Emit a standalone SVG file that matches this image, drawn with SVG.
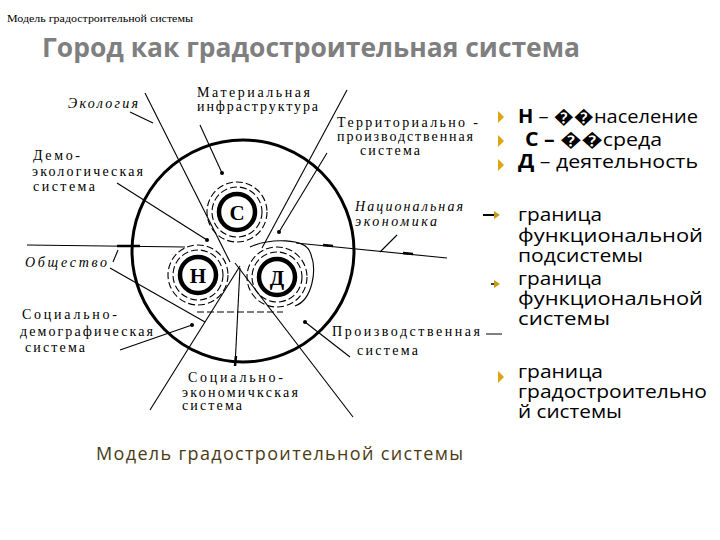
<svg xmlns="http://www.w3.org/2000/svg" width="720" height="540" viewBox="0 0 720 540">
<style>
.lbl{font-family:"Liberation Serif","DejaVu Serif",serif;font-size:14px;fill:#000}
.it{font-style:italic}
.rt{font-family:"Open Sans","DejaVu Sans",sans-serif;font-size:19px;fill:#000}
.ln{stroke:#000;stroke-width:1.1;fill:none}
.ring{stroke:#000;stroke-width:4.5;fill:#fff}
.dash{stroke:#000;stroke-width:1.1;fill:none;stroke-dasharray:7 3}
.nl{font-family:"Liberation Serif","DejaVu Serif",serif;font-size:21px;font-weight:bold;fill:#000;text-anchor:middle}
.dot{fill:#000}
.bul{fill:#d9a514}
</style>
<rect width="720" height="540" fill="#fff"/>
<text x="7" y="22" font-family="Liberation Serif, serif" font-size="11" textLength="186" lengthAdjust="spacingAndGlyphs">Модель градостроительной системы</text>
<text x="42" y="57" font-family="Open Sans, DejaVu Sans, sans-serif" font-size="26" font-weight="bold" fill="#7f7f7f" textLength="538" lengthAdjust="spacingAndGlyphs">Город как градостроительная система</text>

<g id="connectors">
<circle cx="243" cy="251" r="111" fill="none" stroke="#000" stroke-width="3"/>
<line class="ln" x1="145" y1="93" x2="230" y2="262"/>
<line class="ln" x1="347" y1="90" x2="262" y2="248"/>
<line class="ln" x1="27" y1="245" x2="185" y2="247"/>
<line x1="117" y1="246" x2="140" y2="246" stroke="#000" stroke-width="2.5"/>
<line class="ln" x1="296" y1="243" x2="447" y2="258"/>
<line x1="323" y1="245" x2="333" y2="246" stroke="#000" stroke-width="2.5"/>
<line x1="403" y1="253" x2="413" y2="254" stroke="#000" stroke-width="2.5"/>
<line class="ln" x1="150" y1="410" x2="240" y2="266"/>
<line class="ln" x1="235" y1="263" x2="353" y2="417"/>
<line class="ln" x1="240" y1="268" x2="235" y2="366"/>
<line x1="236" y1="356" x2="235" y2="366" stroke="#000" stroke-width="2.5"/>
<line class="ln" x1="110" y1="268" x2="205" y2="322"/>
<line class="ln" x1="120" y1="350" x2="192" y2="325"/>
<line class="ln" x1="305" y1="322" x2="350" y2="357"/>
<line class="ln" x1="397" y1="235" x2="380" y2="252"/>
<line class="ln" x1="327" y1="153" x2="279" y2="232"/>
<line class="ln" x1="200" y1="125" x2="222" y2="173"/>
<line class="ln" x1="117" y1="183" x2="207" y2="240"/>
<line class="ln" x1="130" y1="112" x2="153" y2="123"/>
<line class="ln" x1="118" y1="250" x2="113" y2="262"/>
<line class="dash" x1="197" y1="312" x2="283" y2="312"/>
<line x1="486" y1="334" x2="502" y2="334" stroke="#000" stroke-width="1"/>
<circle class="dot" cx="222" cy="173" r="2"/>
<circle class="dot" cx="207" cy="240" r="2"/>
<circle class="dot" cx="279" cy="232" r="2"/>
<circle class="dot" cx="192" cy="325" r="2"/>
<circle class="dot" cx="305" cy="322" r="2"/>
</g>

<g id="node-S">
<circle class="dash" cx="237" cy="212" r="25"/>
<circle class="dash" cx="237" cy="212" r="30"/>
<circle class="ring" cx="237" cy="212" r="18"/>
<text class="nl" x="237" y="220">С</text>
</g>
<g id="node-N">
<circle class="dash" cx="198" cy="275" r="25"/>
<circle class="dash" cx="198" cy="275" r="30"/>
<circle class="ring" cx="198" cy="275" r="18"/>
<text class="nl" x="198" y="283">Н</text>
</g>
<g id="node-D">
<path class="ln" d="M250 247 C270 238 305 238 310 252 C318 270 312 300 295 306"/>
<circle class="dash" cx="277" cy="277" r="25"/>
<circle class="dash" cx="277" cy="277" r="30"/>
<circle class="ring" cx="277" cy="277" r="18"/>
<text class="nl" x="277" y="285">Д</text>
</g>

<g id="labels">
<text class="lbl" x="197" y="97" textLength="113">Материальная</text>
<text class="lbl" x="197" y="111" textLength="121">инфраструктура</text>
<text class="lbl it" x="68" y="108" textLength="70">Экология</text>
<text class="lbl" x="33" y="160" textLength="47">Демо-</text>
<text class="lbl" x="32" y="176" textLength="111">экологическая</text>
<text class="lbl" x="33" y="191" textLength="62">система</text>
<text class="lbl" x="337" y="127" textLength="141">Территориально -</text>
<text class="lbl" x="337" y="141" textLength="136">производственная</text>
<text class="lbl" x="360" y="155" textLength="60">система</text>
<text class="lbl it" x="355" y="211" textLength="108">Национальная</text>
<text class="lbl it" x="355" y="226" textLength="82">экономика</text>
<text class="lbl it" x="25" y="267" textLength="82">Общество</text>
<text class="lbl" x="22" y="319" textLength="95">Социально-</text>
<text class="lbl" x="20" y="336" textLength="133">демографическая</text>
<text class="lbl" x="25" y="352" textLength="60">система</text>
<text class="lbl" x="332" y="336" textLength="148">Производственная</text>
<text class="lbl" x="357" y="355" textLength="61">система</text>
<text class="lbl" x="188" y="382" textLength="95">Социально-</text>
<text class="lbl" x="182" y="397" textLength="116">экономичкская</text>
<text class="lbl" x="182" y="410" textLength="60">система</text>
</g>

<g id="legend">
<path class="bul" d="M498 111 L504 117 L498 123 Z"/>
<path class="bul" d="M498 135 L504 141 L498 147 Z"/>
<path class="bul" d="M498 159 L504 165 L498 171 Z"/>
<text class="rt" x="518" y="123" textLength="180" lengthAdjust="spacingAndGlyphs"><tspan font-weight="bold">Н</tspan> – ��население</text>
<text class="rt" x="525" y="146" textLength="137" lengthAdjust="spacingAndGlyphs"><tspan font-weight="bold">С –</tspan> ��среда</text>
<text class="rt" x="518" y="168" textLength="180" lengthAdjust="spacingAndGlyphs"><tspan font-weight="bold">Д</tspan> – деятельность</text>
<line x1="483" y1="215" x2="495" y2="215" stroke="#000" stroke-width="2"/>
<path d="M494 211 L500 215 L494 219 Z" fill="#c89a1a"/>
<text class="rt" x="518" y="221" textLength="84" lengthAdjust="spacingAndGlyphs">граница</text>
<text class="rt" x="518" y="242" textLength="185" lengthAdjust="spacingAndGlyphs">функциональной</text>
<text class="rt" x="518" y="262" textLength="125" lengthAdjust="spacingAndGlyphs">подсистемы</text>
<line x1="491" y1="284" x2="496" y2="284" stroke="#000" stroke-width="1.5"/>
<path d="M494 280 L500 284 L494 288 Z" fill="#c89a1a"/>
<text class="rt" x="518" y="285" textLength="84" lengthAdjust="spacingAndGlyphs">граница</text>
<text class="rt" x="518" y="305" textLength="185" lengthAdjust="spacingAndGlyphs">функциональной</text>
<text class="rt" x="518" y="325" textLength="92" lengthAdjust="spacingAndGlyphs">системы</text>
<path class="bul" d="M498 371 L504 377 L498 383 Z"/>
<text class="rt" x="518" y="378" textLength="85" lengthAdjust="spacingAndGlyphs">граница</text>
<text class="rt" x="518" y="398" textLength="189" lengthAdjust="spacingAndGlyphs">градостроительно</text>
<text class="rt" x="518" y="418" textLength="104" lengthAdjust="spacingAndGlyphs">й системы</text>
</g>

<text x="96" y="460" font-family="Open Sans, DejaVu Sans, sans-serif" font-size="18" fill="#4a3b14" textLength="367">Модель градостроительной системы</text>
</svg>
